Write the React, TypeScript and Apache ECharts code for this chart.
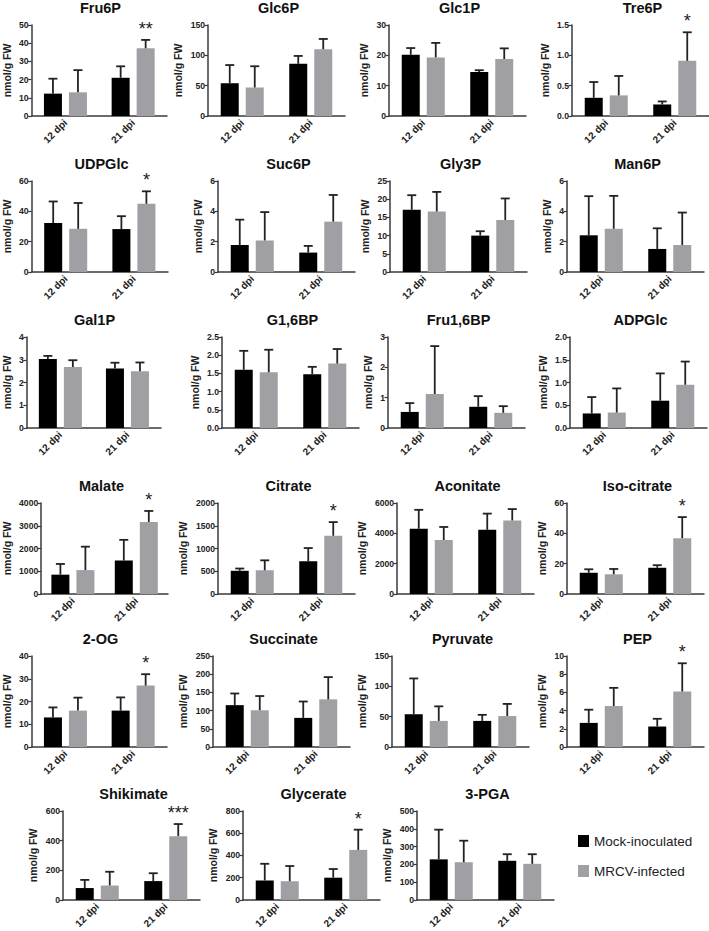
import React, { useEffect, useRef } from "react";
import * as echarts from "echarts";

// ---------- data ----------
const timepoints = ["12 dpi", "21 dpi"];
const seriesNames = ["Mock-inoculated", "MRCV-infected"];

const metabolites = [
  "Fru6P", "Glc6P", "Glc1P", "Tre6P",
  "UDPGlc", "Suc6P", "Gly3P", "Man6P",
  "Gal1P", "G1,6BP", "Fru1,6BP", "ADPGlc",
  "Malate", "Citrate", "Aconitate", "Iso-citrate",
  "2-OG", "Succinate", "Pyruvate", "PEP",
  "Shikimate", "Glycerate", "3-PGA",
];

// mean values [12 dpi, 21 dpi]
const mockMean = [
  [12.3, 21.0], [54, 86], [20.2, 14.5], [0.3, 0.19],
  [32.3, 28.3], [1.78, 1.28], [17.1, 10.0], [2.42, 1.52],
  [3.03, 2.62], [1.6, 1.48], [0.53, 0.7], [0.32, 0.6],
  [850, 1470], [510, 720], [4300, 4230], [14, 17.3],
  [13, 16], [115, 80], [54, 43], [2.65, 2.25],
  [80, 127], [175, 200], [228, 220],
];
// top of error bar [12 dpi, 21 dpi]
const mockUpper = [
  [20.5, 27.3], [84, 99], [22.4, 15.1], [0.56, 0.24],
  [46.5, 36.8], [3.45, 1.72], [21.1, 11.2], [5.0, 2.88],
  [3.17, 2.87], [2.12, 1.68], [0.82, 1.05], [0.68, 1.2],
  [1320, 2380], [560, 1010], [5550, 5300], [16.3, 19],
  [17.4, 21.8], [147, 125], [113, 53], [4.1, 3.1],
  [135, 180], [325, 278], [395, 257],
];
const infMean = [
  [13.0, 37.2], [47, 110], [19.3, 18.8], [0.34, 0.91],
  [28.5, 45.0], [2.08, 3.32], [16.6, 14.3], [2.85, 1.78],
  [2.68, 2.5], [1.53, 1.77], [1.12, 0.5], [0.34, 0.95],
  [1050, 3170], [520, 1280], [3560, 4850], [13, 36.8],
  [16, 27], [101, 131], [43, 51], [4.5, 6.1],
  [97, 430], [168, 450], [212, 203],
];
const infUpper = [
  [25.2, 41.8], [82, 127], [24.1, 22.3], [0.66, 1.38],
  [45.5, 53.2], [3.95, 5.08], [22.0, 20.2], [5.02, 3.92],
  [2.98, 2.88], [2.15, 2.17], [2.7, 0.72], [0.87, 1.46],
  [2080, 3650], [740, 1580], [4420, 5600], [16.5, 50.7],
  [21.7, 32], [140, 192], [67, 71], [6.5, 9.2],
  [190, 512], [305, 632], [333, 257],
];
// significance marks over MRCV bars [12 dpi, 21 dpi]
const significance = [
  ["", "**"], ["", ""], ["", ""], ["", "*"],
  ["", "*"], ["", ""], ["", ""], ["", ""],
  ["", ""], ["", ""], ["", ""], ["", ""],
  ["", "*"], ["", "*"], ["", ""], ["", "*"],
  ["", "*"], ["", ""], ["", ""], ["", "*"],
  ["", "***"], ["", "*"], ["", ""],
];
const yMax = [
  50, 150, 30, 1.5,
  60, 6, 25, 6,
  4, 2.5, 3, 2.0,
  4000, 2000, 6000, 60,
  40, 250, 150, 10,
  600, 800, 500,
];
const yStep = [
  10, 50, 10, 0.5,
  20, 2, 5, 2,
  1, 0.5, 1, 0.5,
  1000, 500, 2000, 20,
  10, 50, 50, 2,
  200, 200, 100,
];
const yName = "nmol/g FW";

// ---------- layout ----------
const panelLeft = [
  30, 208, 389, 572,
  31, 218, 390, 567,
  24, 222, 388, 570,
  31, 218, 397, 567,
  30, 213, 392, 567,
  63, 243, 417,
];
const rowTop = [25, 181, 337, 503, 656, 811];
const PLOT_W = 137;
const PLOT_H = 91;
const BAR_W = 18;
const BAR_OFF = 12.5;

const FONT = '"Liberation Sans", Arial, Helvetica, sans-serif';
const AXIS_COLOR = "#3a3a3a";
const MOCK_COLOR = "#000000";
const INF_COLOR = "#a0a0a4";

function fmt(step: number) {
  const dec = step < 1 ? 1 : 0;
  return (v: number) => v.toFixed(dec);
}

function buildOption() {
  const grid: any[] = [];
  const xAxis: any[] = [];
  const yAxis: any[] = [];
  const series: any[] = [];
  const graphic: any[] = [];

  metabolites.forEach((name, i) => {
    const left = panelLeft[i];
    const top = rowTop[Math.floor(i / 4)];
    grid.push({ left, top, width: PLOT_W, height: PLOT_H });

    const maxLabel = fmt(yStep[i])(yMax[i]);
    const labelW = maxLabel.replace(".", "").length * 4.8 + (maxLabel.includes(".") ? 2.4 : 0);

    xAxis.push({
      type: "category",
      gridIndex: i,
      data: timepoints,
      axisLine: { lineStyle: { color: AXIS_COLOR, width: 1.5 } },
      axisTick: { alignWithLabel: true, length: 3, lineStyle: { color: AXIS_COLOR, width: 1.2 } },
      axisLabel: {
        rotate: 45,
        interval: 0,
        fontSize: 10,
        fontWeight: "bold",
        color: "#222",
        margin: 5,
        fontFamily: FONT,
      },
    });
    yAxis.push({
      type: "value",
      gridIndex: i,
      min: 0,
      max: yMax[i],
      interval: yStep[i],
      splitLine: { show: false },
      axisLine: { show: true, lineStyle: { color: AXIS_COLOR, width: 1.5 } },
      axisTick: { show: true, length: 3.5, lineStyle: { color: AXIS_COLOR, width: 1.2 } },
      axisLabel: {
        fontSize: 8.6,
        fontWeight: "bold",
        color: "#222",
        margin: 3,
        fontFamily: FONT,
        formatter: fmt(yStep[i]),
      },
      name: yName,
      nameLocation: "middle",
      nameRotate: 90,
      nameGap: labelW + 10,
      nameTextStyle: { fontSize: 10.5, fontWeight: "bold", color: "#222", fontFamily: FONT },
    });

    series.push({
      type: "bar",
      name: seriesNames[0],
      xAxisIndex: i,
      yAxisIndex: i,
      data: mockMean[i],
      barWidth: BAR_W,
      barGap: "39%",
      itemStyle: { color: MOCK_COLOR },
      silent: true,
    });
    series.push({
      type: "bar",
      name: seriesNames[1],
      xAxisIndex: i,
      yAxisIndex: i,
      data: infMean[i],
      barWidth: BAR_W,
      barGap: "39%",
      itemStyle: { color: INF_COLOR },
      silent: true,
    });

    const errData: number[][] = [];
    [0, 1].forEach((c) => errData.push([c, mockMean[i][c], mockUpper[i][c], 0]));
    [0, 1].forEach((c) => errData.push([c, infMean[i][c], infUpper[i][c], 1]));
    const sig = significance[i];

    series.push({
      type: "custom",
      xAxisIndex: i,
      yAxisIndex: i,
      data: errData,
      z: 10,
      silent: true,
      encode: { x: 0, y: 1 },
      renderItem: (params: any, api: any) => {
        const cat = api.value(0);
        const mean = api.value(1);
        const up = api.value(2);
        const side = api.value(3);
        const base = api.coord([cat, mean]);
        const tip = api.coord([cat, up]);
        const x = base[0] + (side === 0 ? -BAR_OFF : BAR_OFF);
        const style = { stroke: "#222", lineWidth: 1.8 };
        const children: any[] = [
          { type: "line", shape: { x1: x, y1: base[1], x2: x, y2: tip[1] }, style },
          { type: "line", shape: { x1: x - 4.5, y1: tip[1], x2: x + 4.5, y2: tip[1] }, style },
        ];
        const mark = side === 1 ? sig[cat] : "";
        if (mark) {
          children.push({
            type: "text",
            style: {
              text: mark,
              x: x,
              y: tip[1] - 2,
              textAlign: "center",
              textVerticalAlign: "bottom",
              fontSize: 18,
              fontFamily: FONT,
              fill: "#222",
            },
          });
        }
        return { type: "group", children };
      },
    });

    graphic.push({
      type: "text",
      x: left + PLOT_W / 2 + 2,
      y: top - 25,
      style: {
        text: name,
        textAlign: "center",
        textVerticalAlign: "top",
        fontSize: 14.5,
        fontWeight: "bold",
        fontFamily: FONT,
        fill: "#111",
      },
    });
  });

  return {
    animation: false,
    backgroundColor: "#ffffff",
    textStyle: { fontFamily: FONT },
    grid,
    xAxis,
    yAxis,
    series,
    graphic,
    legend: {
      data: seriesNames,
      orient: "vertical",
      left: 578,
      top: 834,
      padding: 0,
      itemWidth: 11,
      itemHeight: 12,
      itemGap: 16,
      icon: "rect",
      selectedMode: false,
      textStyle: { fontSize: 13.5, color: "#222", fontFamily: FONT },
    },
  };
}

export default function App() {
  const ref = useRef<HTMLDivElement>(null);
  useEffect(() => {
    if (!ref.current) return;
    const chart = echarts.init(ref.current, undefined, { renderer: "svg" });
    chart.setOption(buildOption() as any);
    return () => chart.dispose();
  }, []);
  return (
    <div
      ref={ref}
      style={{ position: "absolute", left: 0, top: 0, width: 709, height: 931, background: "#fff" }}
    />
  );
}
